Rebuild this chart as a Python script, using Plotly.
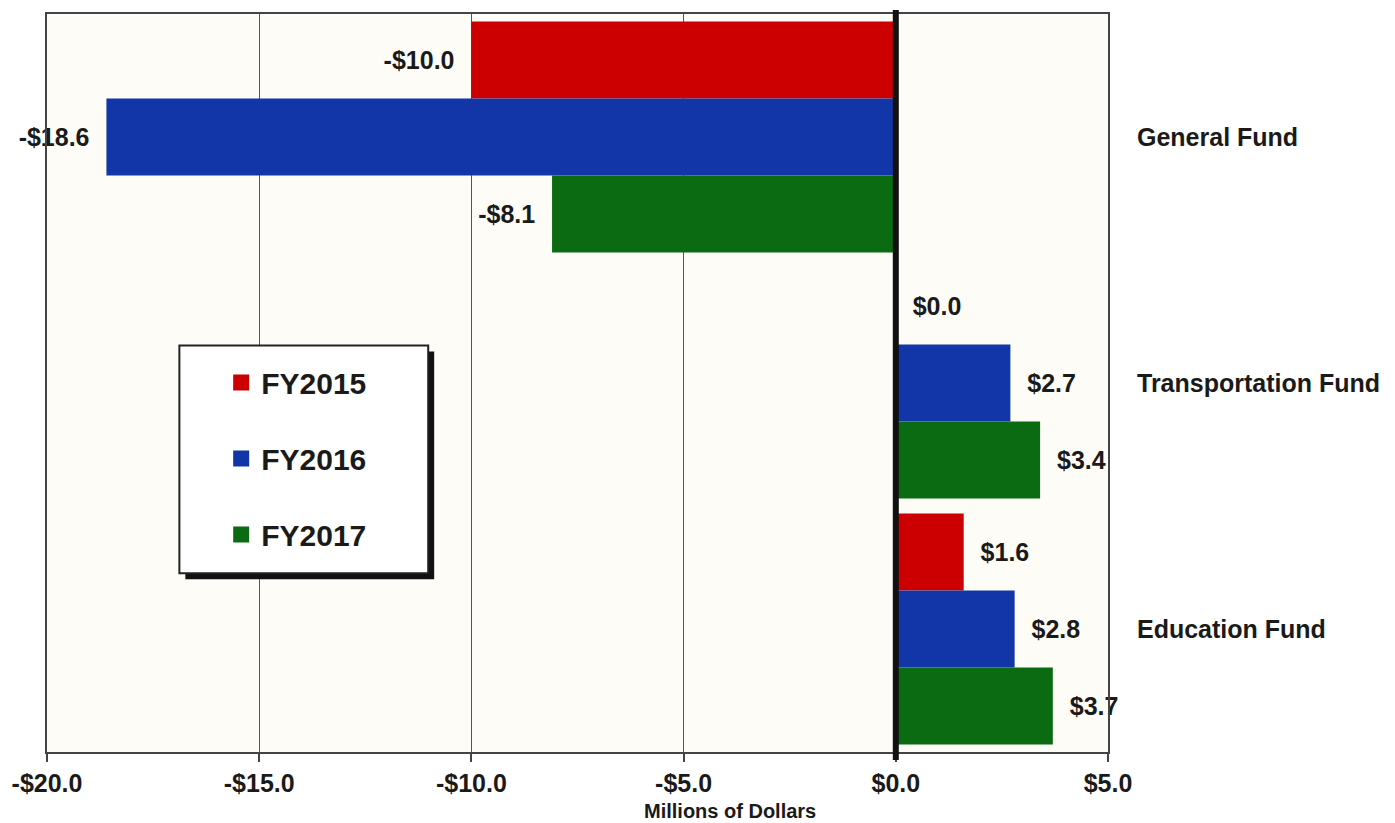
import plotly.graph_objects as go

# ---- data ----
funds = ["General Fund", "Transportation Fund", "Education Fund"]
years = ["FY2015", "FY2016", "FY2017"]
fy2015 = [-10.0, 0.0, 1.6]
fy2016 = [-18.6, 2.7, 2.8]
fy2017 = [-8.1, 3.4, 3.7]
series = [fy2015, fy2016, fy2017]
x_ticks = [-20, -15, -10, -5, 0, 5]
x_tick_labels = ["-$20.0", "-$15.0", "-$10.0", "-$5.0", "$0.0", "$5.0"]
x_title = "Millions of Dollars"

# ---- style ----
colors = ["#CC0000", "#1236A8", "#0B6B12"]
FONT = "Liberation Sans, Arial, sans-serif"
TXT = "#1a1a1a"
W, H = 1395, 823
L, R, T, B = 42, 1108, 13, 752  # plot area in px


def px_x(p):
    return (p - L) / (R - L)


def px_y(p):
    return (B - p) / (B - T)


def fmt(v):
    nb = "\u00a0\u00a0"
    if v < 0:
        return f"-${abs(v):.1f}" + nb
    return nb + f"${v:.1f}"


fig = go.Figure()
for name, vals, c in zip(years, series, colors):
    fig.add_trace(go.Bar(
        y=funds, x=vals, orientation="h", name=name,
        marker=dict(color=c, line=dict(width=0)),
        text=[fmt(v) for v in vals], textposition="outside",
        textfont=dict(family=FONT, size=25, color=TXT, weight="bold"),
        constraintext="none", cliponaxis=False, showlegend=False,
        hoverinfo="skip",
    ))

# legend entries
for name, c in zip(years, colors):
    fig.add_trace(go.Scatter(
        x=[None], y=[None], mode="markers", name=name, legendgroup=name,
        marker=dict(symbol="square", size=16, color=c),
    ))

shapes = [
    # legend shadow
    dict(type="rect", xref="paper", yref="paper",
         x0=px_x(181), x1=px_x(431), y0=px_y(579), y1=px_y(351),
         fillcolor="#111111", line=dict(width=0), layer="above"),
    # legend box
    dict(type="rect", xref="paper", yref="paper",
         x0=px_x(175), x1=px_x(425), y0=px_y(573), y1=px_y(345),
         fillcolor="#ffffff", line=dict(color="#222222", width=2), layer="above"),
    # heavy zero line
    dict(type="line", xref="x", yref="paper", x0=0, x1=0,
         y0=px_y(760), y1=px_y(9), line=dict(color="#111111", width=6),
         layer="above"),
]

fig.update_layout(
    width=W, height=H,
    margin=dict(l=L, r=W - R, t=T, b=H - B, pad=0),
    paper_bgcolor="#ffffff", plot_bgcolor="#FDFCF6",
    barmode="group", bargap=0.06, bargroupgap=0,
    font=dict(family=FONT, color=TXT),
    shapes=shapes,
    showlegend=True,
    legend=dict(
        x=px_x(217), y=px_y(356), xanchor="left", yanchor="top",
        bgcolor="rgba(0,0,0,0)", borderwidth=0,
        font=dict(family=FONT, size=30, color=TXT, weight="bold"),
        tracegroupgap=34, itemsizing="trace", traceorder="grouped",
    ),
    annotations=[dict(
        text=x_title, xref="paper", yref="paper",
        x=px_x(728), y=px_y(811), xanchor="center", yanchor="middle",
        showarrow=False, font=dict(family=FONT, size=20, color=TXT, weight="bold"),
    )],
)

fig.update_xaxes(
    range=[-20, 5], tickvals=x_ticks, ticktext=x_tick_labels,
    tickfont=dict(family=FONT, size=25, color=TXT, weight="bold"),
    ticks="outside", ticklen=8, tickwidth=1.5, tickcolor="#444444",
    showgrid=True, gridcolor="#555555", gridwidth=1,
    zeroline=False,
    showline=True, mirror=True, linecolor="#444444", linewidth=2,
)
fig.update_yaxes(
    type="category", categoryorder="array", categoryarray=funds,
    range=[2.5, -0.5], side="right",
    tickfont=dict(family=FONT, size=25, color=TXT, weight="bold"),
    ticks="", ticklabelstandoff=22, showgrid=False, zeroline=False,
    showline=True, mirror=True, linecolor="#444444", linewidth=2,
)

fig.write_html(
    "out.html",
    config={"displayModeBar": False},
    post_script="document.body.style.margin='0';document.body.style.overflow='hidden';",
)
